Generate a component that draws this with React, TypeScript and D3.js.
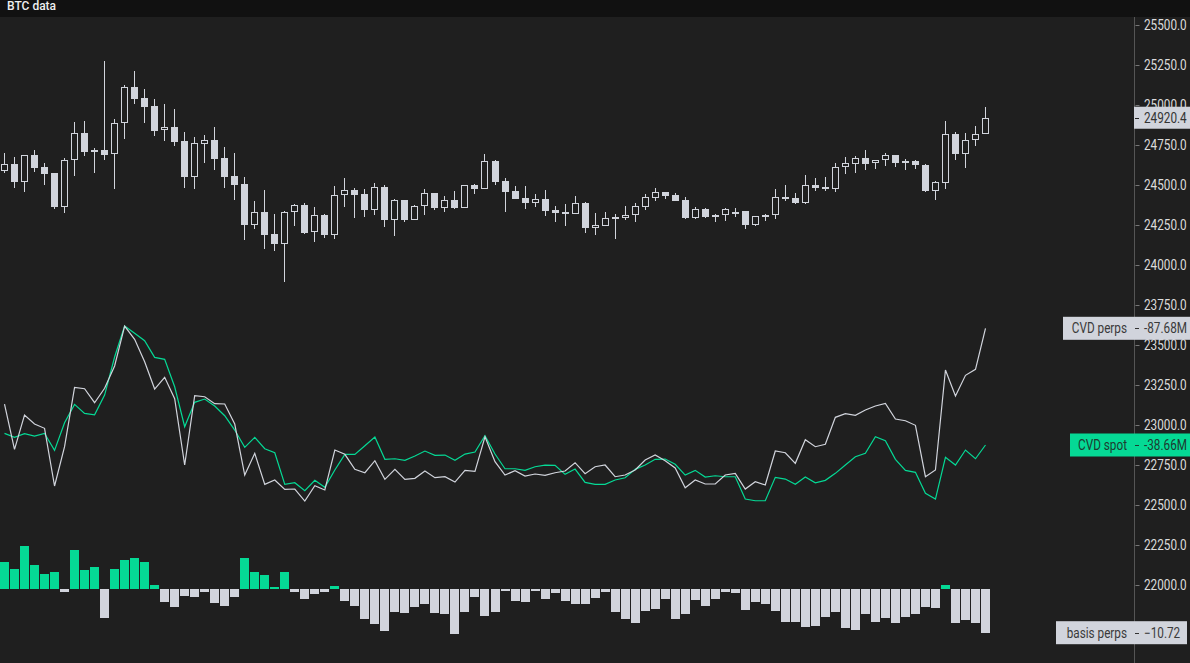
import React from "react";
import * as d3 from "d3";

const title = "BTC data";
const opens = [24589,24631,24521,24687,24612,24575,24364,24654,24823,24719,24719,24692,24886,25111,25042,24992,24842,24862,24773,24552,24758,24781,24669,24556,24506,24252,24331,24194,24133,24329,24375,24204,24312,24189,24436,24467,24444,24346,24487,24283,24406,24283,24367,24450,24358,24406,24358,24498,24477,24650,24525,24462,24419,24390,24412,24344,24331,24321,24387,24233,24246,24300,24294,24314,24364,24421,24454,24437,24406,24296,24350,24312,24314,24331,24337,24250,24312,24314,24425,24419,24390,24500,24487,24477,24611,24633,24667,24636,24654,24686,24636,24648,24623,24464,24514,24817,24696,24779,24817];
const highs = [24700,24675,24687,24719,24637,24575,24669,24894,24900,24731,25275,24912,25125,25213,25100,25037,25006,24975,24829,24800,24812,24862,24737,24700,24550,24400,24469,24319,24337,24381,24387,24362,24319,24494,24544,24481,24475,24512,24500,24411,24406,24373,24475,24450,24431,24462,24498,24506,24694,24656,24544,24494,24494,24444,24469,24369,24381,24431,24394,24325,24331,24319,24369,24387,24444,24481,24454,24450,24425,24362,24356,24319,24356,24356,24337,24306,24319,24475,24500,24450,24562,24544,24550,24637,24673,24679,24719,24654,24698,24686,24661,24654,24629,24525,24900,24829,24823,24869,24986];
const lows = [24577,24483,24458,24583,24500,24348,24327,24558,24683,24577,24656,24477,24789,25008,24889,24808,24777,24746,24483,24477,24639,24596,24483,24408,24158,24227,24102,24089,23896,24246,24196,24146,24171,24164,24364,24296,24302,24314,24239,24183,24271,24283,24314,24346,24333,24352,24358,24446,24477,24502,24333,24412,24350,24362,24306,24271,24246,24321,24202,24189,24246,24164,24283,24271,24346,24402,24412,24402,24287,24289,24294,24269,24275,24300,24225,24244,24277,24289,24402,24381,24383,24462,24462,24456,24569,24577,24596,24602,24621,24614,24596,24602,24458,24408,24477,24658,24608,24746,24817];
const closes = [24629,24521,24687,24608,24571,24364,24656,24823,24708,24708,24689,24886,25111,25039,24989,24839,24861,24771,24552,24761,24779,24664,24552,24502,24252,24331,24189,24133,24331,24373,24202,24311,24189,24436,24467,24439,24346,24486,24283,24404,24283,24367,24448,24358,24404,24358,24498,24477,24648,24519,24456,24412,24387,24411,24337,24325,24321,24386,24231,24248,24292,24289,24311,24367,24423,24454,24433,24402,24294,24350,24300,24300,24350,24334,24250,24306,24302,24425,24412,24387,24500,24481,24475,24611,24636,24667,24633,24654,24686,24636,24648,24623,24464,24517,24817,24696,24779,24817,24920.4];

const cvdPerps = [-163.4,-208.7,-174.4,-183.4,-187.7,-245.4,-206.1,-146.7,-148.1,-162.1,-147.7,-125.4,-85.4,-98.7,-121.1,-148.4,-136.7,-158.1,-224.4,-155.1,-156.1,-163.1,-163.4,-183.4,-234.4,-212.7,-243.7,-239.4,-248.7,-248.4,-260.4,-245.1,-249.4,-209.4,-213.7,-228.7,-232.1,-220.1,-238.7,-228.7,-238.7,-237.7,-230.4,-237.1,-236.1,-241.4,-229.7,-230.7,-196.1,-221.1,-234.4,-230.1,-235.4,-233.4,-234.7,-232.1,-230.4,-222.1,-233.1,-226.1,-224.4,-236.1,-234.4,-229.4,-219.4,-214.4,-220.1,-227.4,-247.1,-239.4,-243.4,-243.4,-234.4,-232.7,-248.4,-241.1,-244.4,-210.4,-212.1,-222.7,-199.1,-206.1,-203.7,-176.7,-173.1,-174.7,-169.4,-165.4,-162.7,-178.4,-180.1,-184.7,-236.1,-229.4,-129.4,-155.4,-134.7,-128.7,-87.68];
const cvdSpot = [-27.0,-31.0,-27.4,-29.7,-27.0,-44.0,-16.4,2.0,-7.0,-8.4,11.3,49.3,80.3,73.0,65.6,49.0,47.0,19.6,-20.4,4.0,7.3,0.3,-9.4,-23.7,-41.0,-31.0,-42.4,-46.4,-78.0,-76.4,-84.4,-74.0,-81.0,-63.7,-48.0,-48.0,-39.4,-30.7,-53.0,-52.4,-54.0,-49.7,-44.7,-49.0,-48.7,-54.0,-47.7,-45.7,-29.4,-47.7,-62.4,-62.4,-64.0,-60.4,-58.7,-59.0,-68.0,-62.7,-76.0,-78.0,-78.0,-73.7,-71.4,-63.0,-58.7,-53.0,-52.7,-58.0,-68.7,-64.0,-70.7,-69.4,-70.4,-70.4,-92.7,-94.4,-94.4,-71.0,-72.7,-78.0,-70.7,-76.4,-74.0,-67.0,-58.7,-50.4,-47.0,-30.4,-34.4,-53.0,-64.0,-66.0,-87.0,-92.7,-51.0,-58.7,-43.7,-52.4,-38.66];
const basisPerps = [6.6,4.9,10.5,5.9,3.7,4.2,-0.7,9.6,4.7,5.4,-7.1,4.9,7.1,7.6,6.6,1.0,-3.2,-4.4,-1.7,-2.0,-0.7,-3.4,-4.2,-2.0,7.6,4.2,3.4,0.5,4.2,-0.7,-2.5,-1.2,-0.7,0.7,-2.9,-4.2,-7.4,-8.6,-10.3,-5.6,-5.9,-4.4,-3.7,-5.9,-6.1,-11.0,-5.6,-2.0,-6.6,-5.6,-0.5,-2.9,-3.2,-0.5,-2.5,-1.0,-2.9,-3.7,-3.7,-2.2,-0.7,-5.6,-7.4,-8.3,-5.4,-4.9,-2.5,-7.4,-6.1,-2.7,-4.2,-2.5,-0.7,-1.0,-5.1,-3.2,-3.7,-5.4,-8.1,-8.1,-9.3,-9.1,-6.9,-5.6,-9.6,-10.0,-6.1,-8.1,-7.1,-8.3,-6.9,-6.1,-4.4,-4.7,1.0,-8.3,-7.6,-8.3,-10.72];
const priceTicks = d3.range(22000, 25501, 250);

const W = 1190, H = 663;
const BG = "#1f1f1f";
const FG = "#d1d4dc";
const GREEN = "#05d995";
const FONT = "Roboto, 'Noto Sans', sans-serif";
const SX = 0.84;

function Txt(props: { x: number; y: number; anchor?: string; fill: string; size?: number; weight?: number; children: React.ReactNode }) {
  const { x, y, anchor, fill, size, weight, children } = props;
  return (
    <text transform={`translate(${x},${y}) scale(${SX},1)`} dy="0.36em" fontSize={size || 14}
      fill={fill} textAnchor={anchor || "start"} fontWeight={weight || 400}>{children}</text>
  );
}

export default function App() {
  const n = closes.length;
  const x = d3.scaleLinear().domain([0, n - 1]).range([4.5, 985.5]);
  const y = d3.scaleLinear().domain([22000, 25500]).range([585, 25]);
  const yPerps = d3.scaleLinear().domain([-87.68, -187.68]).range([328.3, 428.3]);
  const ySpot = d3.scaleLinear().domain([-38.66, -138.66]).range([445, 545]);
  const yBasis = d3.scaleLinear().domain([0, -10.72]).range([589, 632.7]);
  const cx = (i: number) => Math.round(x(i) - 0.5) + 0.5;

  const perpsLine = d3.line<number>().x((_, i) => x(i)).y((d) => yPerps(d))(cvdPerps) || "";
  const spotLine = d3.line<number>().x((_, i) => x(i)).y((d) => ySpot(d))(cvdSpot) || "";

  const axisX = 1134.5;
  const lastPrice = closes[n - 1];
  const lastPerps = cvdPerps[n - 1];
  const lastSpot = cvdSpot[n - 1];
  const lastBasis = basisPerps[n - 1];
  const fmtM = (v: number) => v.toFixed(2) + "M";
  const tickY = (v: number) => Math.round(v) + 0.5;

  return (
    <svg width={W} height={H} style={{ position: "absolute", left: 0, top: 0, background: BG }} fontFamily={FONT}>
      <rect x={0} y={0} width={W} height={H} fill={BG} />
      <rect x={0} y={0} width={W} height={17} fill="#111111" />
      <text x={7} y={10} fontSize={12} fill="#eeeeee" fontWeight={500}>{title}</text>

      {/* histogram */}
      {basisPerps.map((v, i) => {
        const y0 = yBasis(0), y1 = yBasis(v);
        return (
          <rect key={"b" + i} x={Math.round(x(i) - 4.5)} width={9}
            y={Math.round(Math.min(y0, y1))} height={Math.max(1, Math.round(Math.abs(y1 - y0)))}
            fill={v >= 0 ? GREEN : FG} />
        );
      })}

      {/* CVD lines */}
      <path d={spotLine} fill="none" stroke={GREEN} strokeWidth={1.2} />
      <path d={perpsLine} fill="none" stroke={FG} strokeWidth={1.2} />

      {/* candles */}
      {closes.map((c, i) => {
        const o = opens[i];
        const up = c >= o;
        const c0 = cx(i);
        const top = Math.round(y(Math.max(o, c)));
        const bot = Math.round(y(Math.min(o, c)));
        const hi = Math.round(y(highs[i]));
        const lo = Math.round(y(lows[i]));
        const h = Math.max(bot - top, 1);
        return (
          <g key={"c" + i}>
            <line x1={c0} x2={c0} y1={hi} y2={lo} stroke={FG} strokeWidth={1} />
            {up && h > 1 ? (
              <rect x={c0 - 3} y={top + 0.5} width={6} height={Math.max(h - 1, 1)} fill={BG} stroke={FG} strokeWidth={1} />
            ) : (
              <rect x={c0 - 3.5} y={top} width={7} height={Math.max(h, 2)} fill={FG} />
            )}
          </g>
        );
      })}

      {/* price axis */}
      <line x1={axisX} x2={axisX} y1={17} y2={H} stroke="#555555" strokeWidth={1} />
      {priceTicks.map((t) => (
        <g key={"t" + t}>
          <line x1={axisX + 1} x2={axisX + 5} y1={tickY(y(t))} y2={tickY(y(t))} stroke="#777777" />
          <Txt x={1144} y={y(t)} fill="#dcdcdc">{t.toFixed(1)}</Txt>
        </g>
      ))}

      {/* last price label */}
      <g>
        <rect x={1134} y={y(lastPrice) - 11} width={56} height={22} fill={FG} />
        <line x1={1135} x2={1139} y1={tickY(y(lastPrice))} y2={tickY(y(lastPrice))} stroke="#222" />
        <Txt x={1144} y={y(lastPrice)} fill="#333333">{lastPrice.toFixed(1)}</Txt>
      </g>

      {/* CVD perps label */}
      <g>
        <rect x={1063} y={yPerps(lastPerps) - 11.5} width={127} height={23} fill={FG} />
        <Txt x={1127} y={yPerps(lastPerps)} fill="#3a3a3a" anchor="end">CVD perps</Txt>
        <line x1={1135} x2={1139} y1={tickY(yPerps(lastPerps))} y2={tickY(yPerps(lastPerps))} stroke="#333" />
        <Txt x={1144} y={yPerps(lastPerps)} fill="#3a3a3a">{fmtM(lastPerps)}</Txt>
      </g>

      {/* CVD spot label */}
      <g>
        <rect x={1070} y={ySpot(lastSpot) - 11.5} width={120} height={23} fill={GREEN} />
        <Txt x={1127} y={ySpot(lastSpot)} fill="#1e3a30" anchor="end">CVD spot</Txt>
        <line x1={1135} x2={1139} y1={tickY(ySpot(lastSpot))} y2={tickY(ySpot(lastSpot))} stroke="#1e3a30" />
        <Txt x={1144} y={ySpot(lastSpot)} fill="#1e3a30">{fmtM(lastSpot)}</Txt>
      </g>

      {/* basis label */}
      <g>
        <rect x={1056} y={yBasis(lastBasis) - 11.5} width={131} height={23} fill={FG} />
        <Txt x={1127} y={yBasis(lastBasis)} fill="#3a3a3a" anchor="end">basis perps</Txt>
        <line x1={1135} x2={1139} y1={tickY(yBasis(lastBasis))} y2={tickY(yBasis(lastBasis))} stroke="#333" />
        <Txt x={1144} y={yBasis(lastBasis)} fill="#3a3a3a">{"\u2212" + Math.abs(lastBasis).toFixed(2)}</Txt>
      </g>
    </svg>
  );
}
